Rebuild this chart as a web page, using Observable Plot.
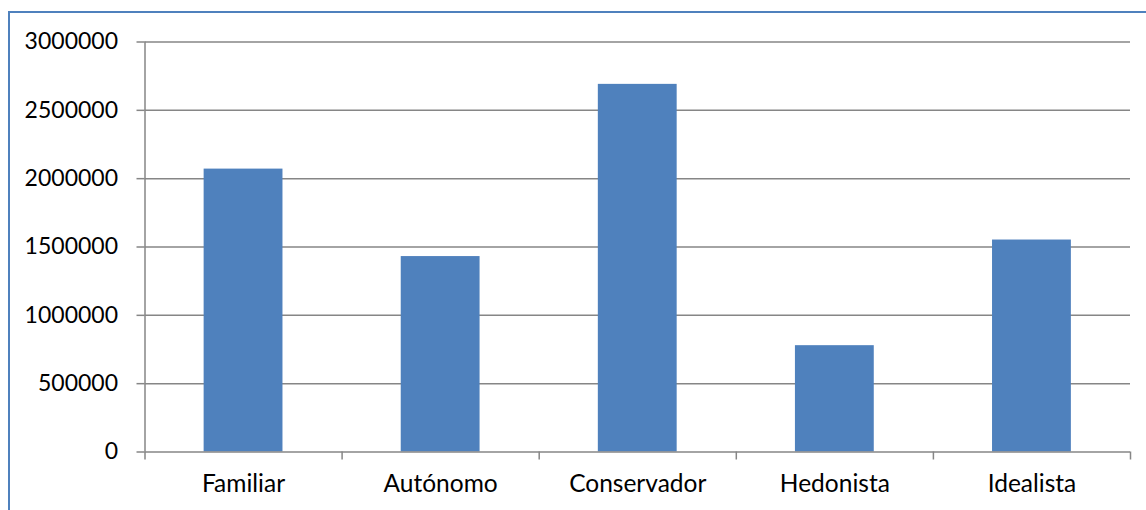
<!DOCTYPE html>
<html>
<head>
<meta charset="utf-8">
<script src="https://cdn.jsdelivr.net/npm/d3@7"></script>
<script src="https://cdn.jsdelivr.net/npm/@observablehq/plot@0.6"></script>
<style>
  html, body { margin: 0; padding: 0; background: #fff; }
  #wrap { position: relative; width: 1146px; height: 510px; overflow: hidden; }
  #border { position: absolute; left: 8px; top: 11px; width: 2000px; height: 2000px;
            border-left: 2px solid #4F81BD; border-top: 2px solid #4F81BD; pointer-events: none; }
</style>
</head>
<body>
<div id="wrap"><div id="border"></div></div>
<script>
// Values per lifestyle segment
const categories = ["Familiar", "Autónomo", "Conservador", "Hedonista", "Idealista"];
const values = [2070000, 1430000, 2690000, 778000, 1551000];
const yTicks = [0, 500000, 1000000, 1500000, 2000000, 2500000, 3000000];

const data = categories.map((c, i) => ({category: c, index: i, value: values[i]}));
const boundaries = d3.range(categories.length + 1);
const centers = categories.map((c, i) => i + 0.5);

const grey = "#868686";
const font = "Lato, 'Open Sans', sans-serif";

const chart = Plot.plot({
  width: 1146,
  height: 510,
  marginTop: 41.5,
  marginBottom: 58.5,
  marginLeft: 144.5,
  marginRight: 16,
  style: {fontFamily: font, fontSize: "23px", color: "#000", background: "transparent"},
  x: {domain: [0, categories.length]},
  y: {domain: [0, 3000000]},
  marks: [
    Plot.ruleY(yTicks.slice(1), {stroke: grey, strokeWidth: 1.5}),
    Plot.rectY(data, {x1: d => d.index + 0.3, x2: d => d.index + 0.7, y: "value", fill: "#4F81BD"}),
    Plot.ruleY([0], {stroke: grey, strokeWidth: 1.5}),
    Plot.ruleX([0], {stroke: grey, strokeWidth: 1.5}),
    Plot.axisY({ticks: yTicks, tickSize: 8, tickPadding: 19, tickFormat: d => String(d),
                stroke: grey, strokeWidth: 1.5, fill: "#000", fontSize: 23, label: null}),
    Plot.axisX({ticks: boundaries, tickSize: 8, tickFormat: () => "", stroke: grey, strokeWidth: 1.5, label: null}),
    Plot.axisX({ticks: centers, tickSize: 0, tickPadding: 23, tickFormat: d => categories[Math.round(d - 0.5)],
                fill: "#000", fontSize: 24.5, label: null})
  ]
});
document.getElementById("wrap").prepend(chart);
</script>
</body>
</html>
